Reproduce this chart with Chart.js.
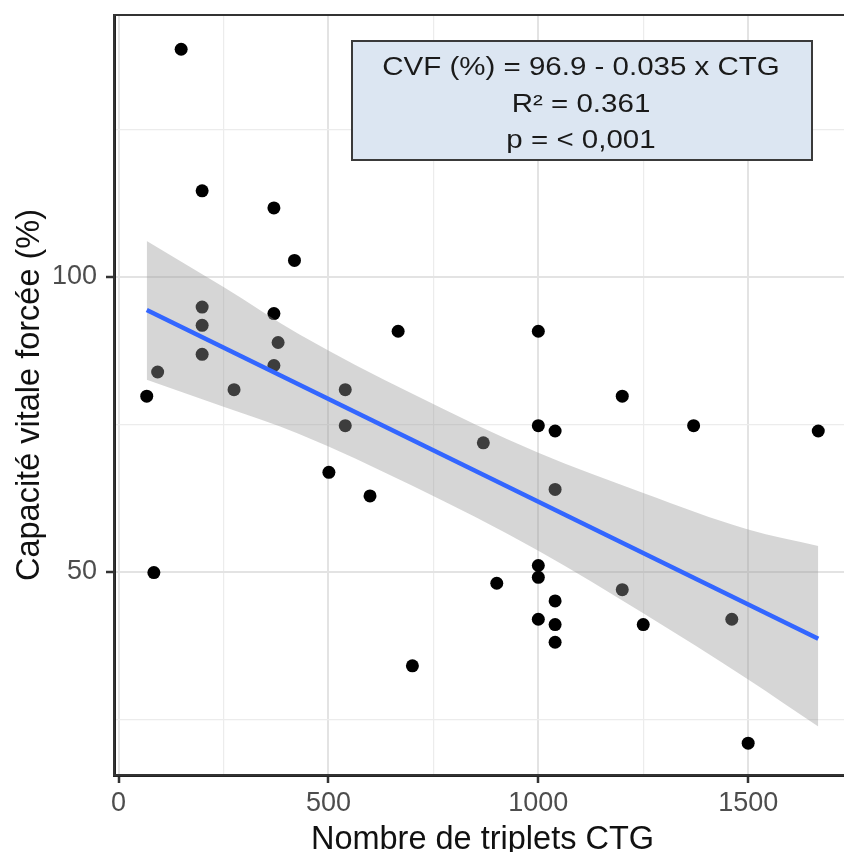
<!DOCTYPE html>
<html lang="fr">
<head>
<meta charset="utf-8">
<title>CVF vs triplets CTG</title>
<script src="https://cdn.jsdelivr.net/npm/chart.js@4/dist/chart.umd.min.js"></script>
<style>
    html, body { margin: 0; padding: 0; background: #fff; overflow: hidden; }
    #wrap { width: 860px; height: 852px; }
</style>
</head>
<body>
<div id="wrap"><canvas id="chartCanvas" width="860" height="852"></canvas></div>
<script>
// Données
const ctgX = [149, 199, 370, 419, 199, 199, 370, 380, 199, 93, 370, 67, 275, 540, 666,
              1000, 540, 1000, 869, 501, 599, 1200, 1040, 1370, 1667, 1040, 1000, 1000,
              901, 1200, 1040, 1000, 1040, 1250, 1461, 1040, 700, 84, 1500];
const cvfY = [138.6, 114.6, 111.7, 102.8, 94.9, 91.8, 93.8, 88.9, 86.9, 83.9, 85.0, 79.8,
              80.9, 80.9, 90.8, 90.8, 74.8, 74.8, 71.9, 66.9, 62.9, 79.8, 73.9, 74.8, 73.9,
              64.0, 51.1, 49.1, 48.1, 47.0, 45.1, 42.0, 41.1, 41.1, 42.0, 38.1, 34.1, 49.9, 21.0];

// Droite de régression et intervalle de confiance
const fitX = [67, 1667];
const fitY = [94.4, 38.7];
const bandX = [67, 250, 430, 700, 1000, 1250, 1500, 1667];
const bandUpper = [106.1, 98.3, 90.3, 80.2, 70.2, 63.4, 57.2, 54.4];
const bandLower = [82.6, 78.0, 73.4, 64.6, 53.6, 43.0, 31.8, 23.8];

// Graduations (principales avec étiquette, secondaires sans)
const xTicks = [0, 500, 1000, 1500];
const xMinor = [250, 750, 1250];
const yTicks = [50, 100];
const yMinor = [25, 75, 125];
const annotationLines = ['CVF (%) = 96.9 - 0.035 x CTG', 'R² = 0.361', 'p = < 0,001'];

const FONT = '"Liberation Sans", Arial, sans-serif';
const toPts = (xs, ys) => xs.map((x, i) => ({ x: x, y: ys[i] }));

// Bordure du panneau, encadré et titres des axes
const decorPlugin = {
    id: 'decor',
    afterDraw(chart) {
        const ctx = chart.ctx;
        const a = chart.chartArea;
        ctx.save();
        ctx.strokeStyle = '#333';
        ctx.lineWidth = 2;
        ctx.strokeRect(a.left, a.top, a.right - a.left, a.bottom - a.top);

        // encadré bleu
        ctx.fillStyle = '#dce6f2';
        ctx.fillRect(352, 41, 460, 119);
        ctx.strokeStyle = '#3a3a3a';
        ctx.lineWidth = 2;
        ctx.strokeRect(352, 41, 460, 119);
        ctx.fillStyle = '#1a1a1a';
        ctx.font = '25px ' + FONT;
        ctx.textAlign = 'center';
        ctx.textBaseline = 'alphabetic';
        const baselines = [75, 111.5, 148];
        annotationLines.forEach((t, i) => {
            ctx.save();
            ctx.translate(581, baselines[i]);
            ctx.scale(1.18, 1);
            ctx.fillText(t, 0, 0);
            ctx.restore();
        });

        // titres des axes
        ctx.fillStyle = '#111';
        ctx.font = '32.5px ' + FONT;
        ctx.fillText('Nombre de triplets CTG', (a.left + a.right) / 2, 849);
        ctx.save();
        ctx.translate(38.5, (a.top + a.bottom) / 2);
        ctx.rotate(-Math.PI / 2);
        ctx.fillText('Capacité vitale forcée (%)', 0, 0);
        ctx.restore();
        ctx.restore();
    }
};

function gridOpts(major) {
    const isMajor = c => c.tick && major.includes(c.tick.value);
    return {
        color: c => isMajor(c) ? '#e3e3e3' : '#ececec',
        lineWidth: c => isMajor(c) ? 2 : 1.2,
        tickColor: c => isMajor(c) ? '#333' : 'rgba(0,0,0,0)',
        tickWidth: 2.5,
        tickLength: 8,
        drawTicks: true
    };
}

function setTicks(major, minor) {
    return scale => {
        scale.ticks = major.concat(minor).sort((p, q) => p - q).map(v => ({ value: v }));
    };
}

function loadChart() {
    const ctx = document.getElementById('chartCanvas').getContext('2d');
    new Chart(ctx, {
        type: 'scatter',
        data: {
            datasets: [
                {
                    type: 'line',
                    data: toPts(fitX, fitY),
                    borderColor: '#3366ff',
                    borderWidth: 4.5,
                    pointRadius: 0,
                    fill: false,
                    order: 1
                },
                {
                    type: 'line',
                    data: toPts(bandX, bandUpper),
                    borderColor: 'rgba(0,0,0,0)',
                    borderWidth: 0,
                    pointRadius: 0,
                    cubicInterpolationMode: 'monotone',
                    fill: '+1',
                    backgroundColor: 'rgba(153,153,153,0.4)',
                    order: 2
                },
                {
                    type: 'line',
                    data: toPts(bandX, bandLower),
                    borderColor: 'rgba(0,0,0,0)',
                    borderWidth: 0,
                    pointRadius: 0,
                    cubicInterpolationMode: 'monotone',
                    fill: false,
                    order: 2
                },
                {
                    data: toPts(ctgX, cvfY),
                    backgroundColor: '#000',
                    borderWidth: 0,
                    pointRadius: 6.5,
                    pointHoverRadius: 6.5,
                    order: 3
                }
            ]
        },
        options: {
            responsive: false,
            animation: false,
            devicePixelRatio: 1,
            events: [],
            layout: { padding: { left: 0, top: 15, right: 9, bottom: 0 } },
            plugins: { legend: { display: false }, tooltip: { enabled: false } },
            scales: {
                x: {
                    type: 'linear',
                    min: -11,
                    max: 1745,
                    afterBuildTicks: setTicks(xTicks, xMinor),
                    afterFit: s => { s.height = 77; s.paddingLeft = 0; s.paddingRight = 0; },
                    border: { display: true, color: '#222', width: 3 },
                    grid: gridOpts(xTicks),
                    ticks: {
                        autoSkip: false,
                        maxRotation: 0,
                        padding: 4,
                        color: '#4d4d4d',
                        font: { family: FONT, size: 27 },
                        callback: v => xTicks.includes(v) ? String(v) : ''
                    }
                },
                y: {
                    min: 15.6,
                    max: 144.4,
                    afterBuildTicks: setTicks(yTicks, yMinor),
                    afterFit: s => { s.width = 114; s.paddingTop = 0; s.paddingBottom = 0; },
                    border: { display: true, color: '#222', width: 3 },
                    grid: gridOpts(yTicks),
                    ticks: {
                        autoSkip: false,
                        padding: 9,
                        color: '#4d4d4d',
                        font: { family: FONT, size: 27 },
                        callback: v => yTicks.includes(v) ? String(v) : ''
                    }
                }
            }
        },
        plugins: [decorPlugin]
    });
}

document.addEventListener('DOMContentLoaded', loadChart);
</script>
</body>
</html>
